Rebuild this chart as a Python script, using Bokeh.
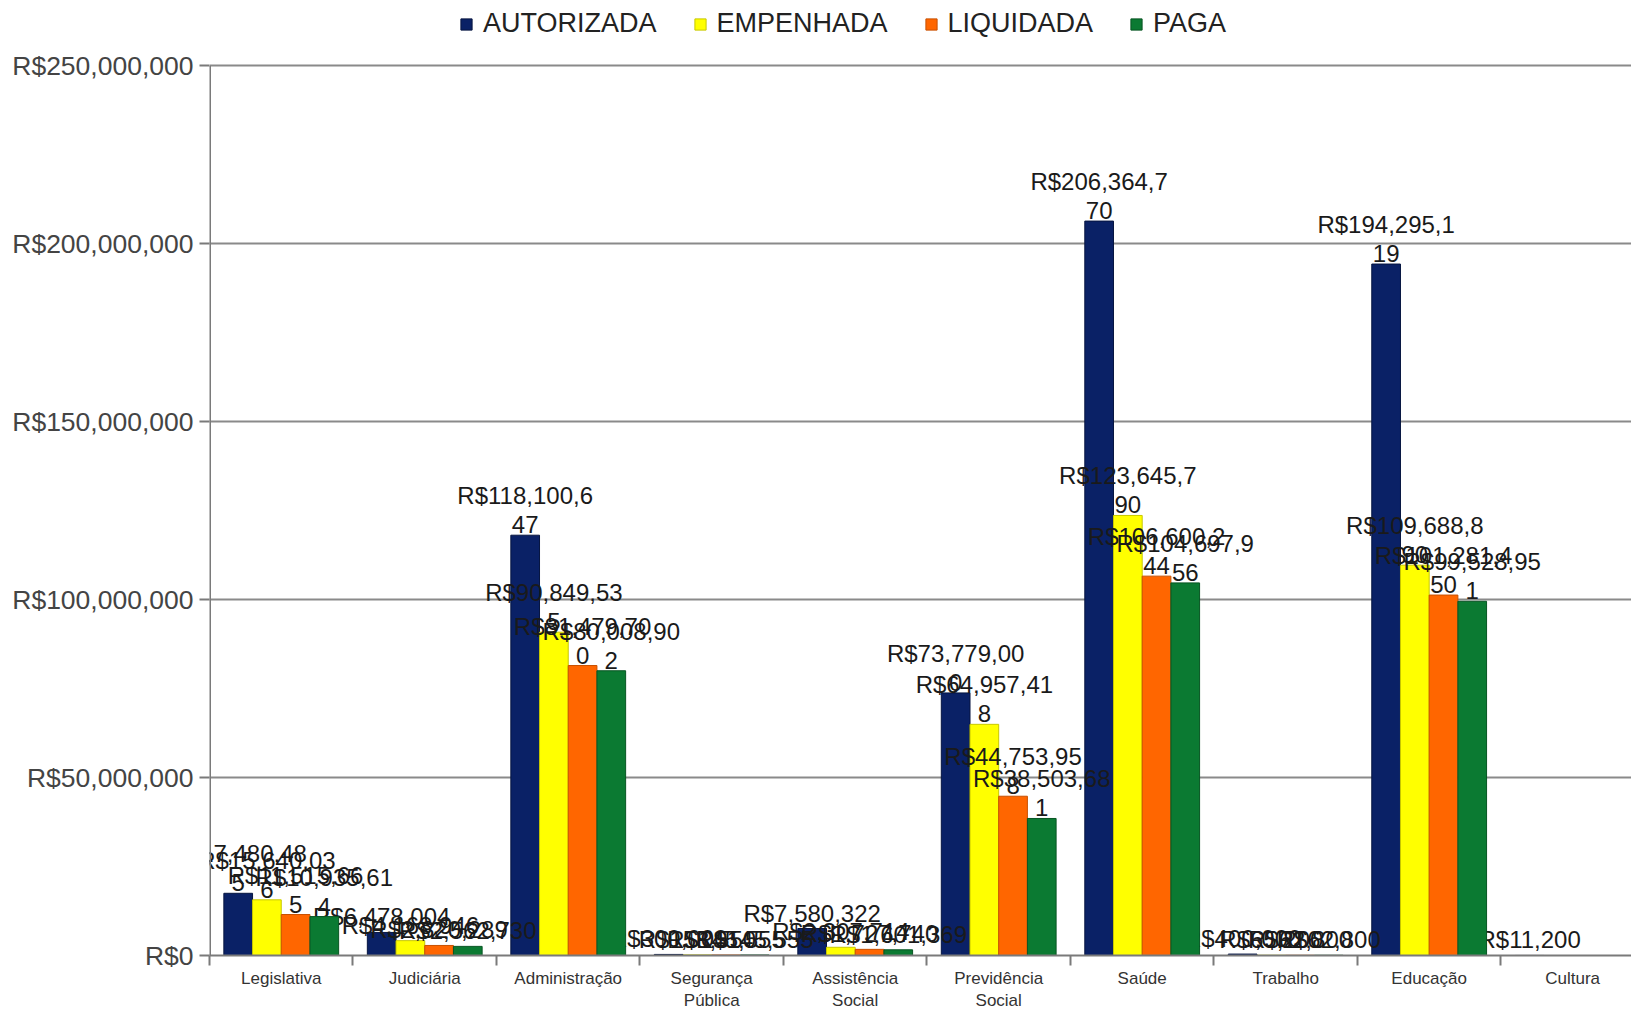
from bokeh.plotting import figure
from bokeh.models import (ColumnDataSource, Range1d, FixedTicker,
                          Legend, LegendItem, CustomJSTickFormatter)
from bokeh.core.properties import value
from bokeh.embed import file_html
from bokeh.resources import INLINE

categories = ["Legislativa", "Judiciária", "Administração", "Segurança\nPública",
              "Assistência\nSocial", "Previdência\nSocial", "Saúde", "Trabalho",
              "Educação", "Cultura"]
series_names = ["AUTORIZADA", "EMPENHADA", "LIQUIDADA", "PAGA"]
autorizada = [17480485, 6478004, 118100647, 300000, 7580322, 73779000, 206364770, 400000, 194295119, 11200]
empenhada = [15640036, 4168946, 90849535, 158550, 2307714, 64957418, 123645790, 65200, 109688890, None]
liquidada = [11515665, 2820289, 81479700, 145555, 1727740, 44753958, 106600244, 62800, 101281450, None]
paga = [10935614, 2562730, 80008902, 145555, 1601369, 38503681, 104697956, 62800, 99528951, None]
y_ticks = [0, 50000000, 100000000, 150000000, 200000000, 250000000]

series = [autorizada, empenhada, liquidada, paga]
colors = ["#0a2166", "#ffff00", "#ff6600", "#0b7a32"]
edges = ["#061540", "#c8c800", "#c85000", "#075522"]

FONT = "Liberation Sans"
W, H = 1631, 1013
BL, BB = 209, 55
FRAME_H = H - BB
TOP_PX = 65.5  # pixel position of the highest tick from the top
Y_END = y_ticks[-1] * FRAME_H / (FRAME_H - TOP_PX)

p = figure(width=W, height=H, output_backend="svg", toolbar_location=None,
           x_range=Range1d(0, 9.91), y_range=Range1d(0, Y_END),
           min_border_left=BL, min_border_right=0, min_border_top=0, min_border_bottom=BB)
p.outline_line_color = None
p.background_fill_color = "white"

def fmt(v):
    return "R$" + "{:,}".format(int(v))

renderers = []
for i, (name, vals) in enumerate(zip(series_names, series)):
    xs, tops, l1, l2 = [], [], [], []
    for j, v in enumerate(vals):
        if v is None:
            continue
        xs.append(j + 0.2 + 0.2 * i)
        tops.append(v)
        s = fmt(v)
        if len(s) > 11:
            l1.append(s[:11]); l2.append(s[11:])
        else:
            l1.append(""); l2.append(s)
    src = ColumnDataSource(dict(x=xs, top=tops, l1=l1, l2=l2))
    r = p.vbar(x="x", top="top", width=0.2, bottom=0, source=src,
               fill_color=colors[i], line_color=edges[i], line_width=1)
    renderers.append(r)
    p.text(x="x", y="top", text="l2", source=src, text_align="center", text_baseline="bottom",
           y_offset=-2, text_font=value(FONT), text_font_size="24px", text_color="#1a1a1a")
    p.text(x="x", y="top", text="l1", source=src, text_align="center", text_baseline="bottom",
           y_offset=-26, text_font=value(FONT), text_font_size="24px", text_color="#1a1a1a")

# vertical axis line only up to the top tick
p.segment(x0=[0], y0=[y_ticks[0]], x1=[0], y1=[y_ticks[-1]], line_color="#7a7a7a", line_width=3)

# axes
p.yaxis.ticker = FixedTicker(ticks=y_ticks)
p.yaxis.formatter = CustomJSTickFormatter(code="return 'R$' + tick.toLocaleString('en-US');")
p.yaxis.major_label_text_font = FONT
p.yaxis.major_label_text_font_size = "26.5px"
p.yaxis.major_label_text_color = "#444444"
p.yaxis.major_label_standoff = 6
p.yaxis.axis_line_color = None
p.yaxis.major_tick_line_color = "#7a7a7a"
p.yaxis.major_tick_line_width = 2
p.yaxis.major_tick_out = 10
p.yaxis.major_tick_in = 0
p.yaxis.minor_tick_line_color = None

p.xaxis.ticker = FixedTicker(ticks=[k + 0.5 for k in range(len(categories))],
                             minor_ticks=list(range(len(categories) + 1)))
p.xaxis.major_label_overrides = {k + 0.5: c for k, c in enumerate(categories)}
p.xaxis.major_tick_line_color = None
p.xaxis.minor_tick_line_color = "#7a7a7a"
p.xaxis.minor_tick_line_width = 2
p.xaxis.minor_tick_out = 10
p.xaxis.minor_tick_in = 0
p.xaxis.axis_line_color = "#7a7a7a"
p.xaxis.axis_line_width = 2
p.xaxis.major_label_text_font = FONT
p.xaxis.major_label_text_font_size = "17px"
p.xaxis.major_label_text_color = "#333333"
p.xaxis.major_label_standoff = 3

p.xgrid.grid_line_color = None
p.ygrid.ticker = FixedTicker(ticks=y_ticks)
p.ygrid.grid_line_color = "#8a8a8a"
p.ygrid.grid_line_width = 2

legend = Legend(items=[LegendItem(label=n, renderers=[r]) for n, r in zip(series_names, renderers)],
                orientation="horizontal", location=(250, FRAME_H - 42))
legend.label_text_font = FONT
legend.label_text_font_size = "27px"
legend.label_text_color = "#222222"
legend.glyph_width = 14
legend.glyph_height = 14
legend.label_standoff = 10
legend.spacing = 36
legend.padding = 0
legend.margin = 0
legend.border_line_color = None
legend.background_fill_alpha = 0
p.add_layout(legend)

open("out.html", "w").write(file_html(p, INLINE))
